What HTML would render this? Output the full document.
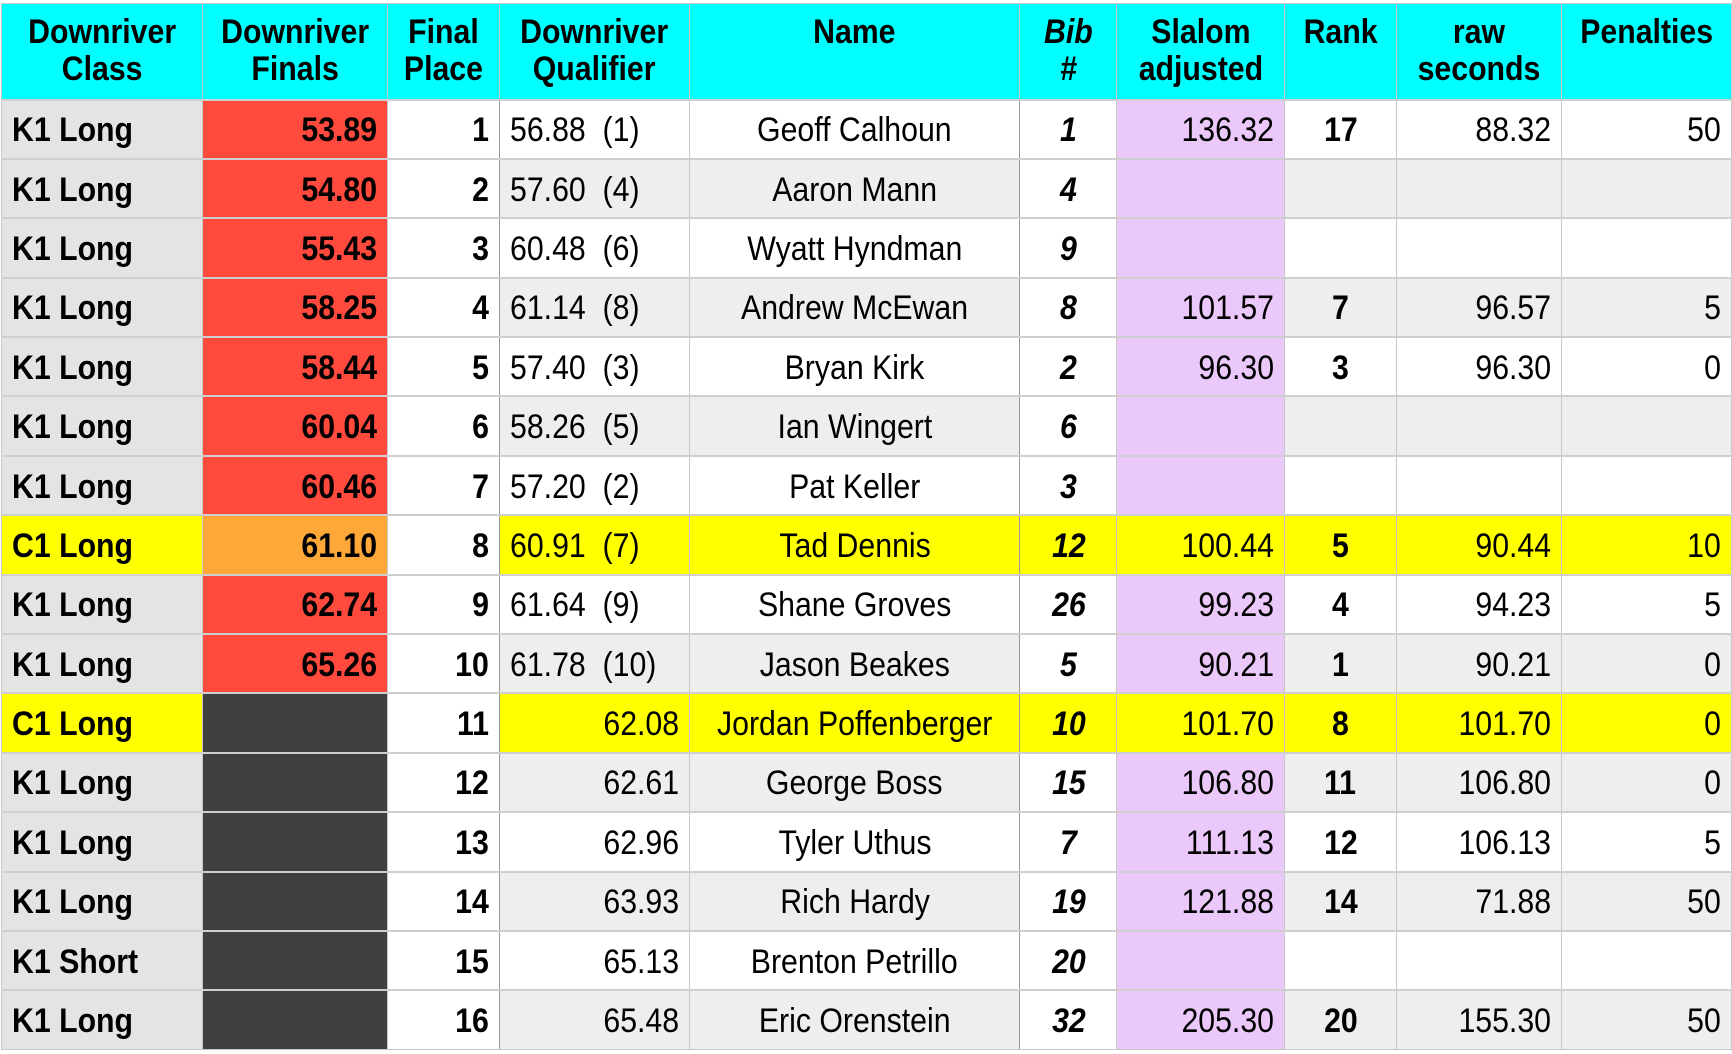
<!DOCTYPE html>
<html><head><meta charset="utf-8"><style>
html,body{margin:0;padding:0;background:#fff;width:1732px;height:1054px;overflow:hidden}
table{position:absolute;left:1px;top:3px;border-collapse:collapse;table-layout:fixed;font-family:"Liberation Sans",Arial,sans-serif;font-size:34px;color:#000}
td,th{border:1px solid #c8c8c8;padding:0 10px;white-space:nowrap;overflow:hidden;background:#fff}
th{background:#00ffff;height:96px;vertical-align:top;font-weight:bold;line-height:37px;padding-top:10px;box-sizing:border-box;text-align:center;padding-left:0;padding-right:0}
span.t{display:inline-block;transform:scaleX(0.89);transform-origin:center}
td[style*="left"] span.t,td.cls span.t,td.q span.t{transform-origin:left}
td.fin span.t,td.pl span.t,td.num span.t,td.sl span.t,td.q.r span.t{transform-origin:right}
tbody tr{height:59.4px}
tbody td{border-top:2px solid #cfcfcf;vertical-align:middle;padding-top:3px}
tr.g td{background:#eeeeee}
td.cls{background:#e4e4e4 !important;font-weight:bold;text-align:left}
td.fin{background:#ff4a3d !important;font-weight:bold;text-align:right}
td.fin.dk{background:#404040 !important}
td.pl{background:#fff !important;font-weight:bold;text-align:right;border-right:1px solid #999}
td.q{text-align:left}
td.q.r{text-align:right}
td.q span.t{transform-origin:left}
td.q.r span.t{transform-origin:right}
td.nm{text-align:center;border-right:1px solid #999}
td.bib{background:#fff !important;font-weight:bold;font-style:italic;text-align:center}
td.sl{background:#eac8fa !important;text-align:right}
td.rk{font-weight:bold;text-align:center}
td.num{text-align:right}
tr.y td{background:#ffff00 !important}
tr.y td.pl{background:#fff !important}
tr.y td.fin{background:#ffa83a !important}
tr.y td.fin.dk{background:#404040 !important}
</style></head><body>
<table>
<colgroup><col style="width:202px"><col style="width:185px"><col style="width:113px"><col style="width:190px"><col style="width:325px"><col style="width:98px"><col style="width:168px"><col style="width:113px"><col style="width:166px"><col style="width:170px"></colgroup>
<thead><tr>
<th><span class="t">Downriver<br>Class</span></th>
<th><span class="t">Downriver<br>Finals</span></th>
<th><span class="t">Final<br>Place</span></th>
<th><span class="t">Downriver<br>Qualifier</span></th>
<th><span class="t">Name</span></th>
<th style="font-style:italic"><span class="t">Bib<br>#</span></th>
<th><span class="t">Slalom<br>adjusted</span></th>
<th><span class="t">Rank</span></th>
<th><span class="t">raw<br>seconds</span></th>
<th><span class="t">Penalties</span></th>
</tr></thead>
<tbody id="tb"></tbody>
</table>
<script>
var classes=["K1 Long","K1 Long","K1 Long","K1 Long","K1 Long","K1 Long","K1 Long","C1 Long","K1 Long","K1 Long","C1 Long","K1 Long","K1 Long","K1 Long","K1 Short","K1 Long"];
var finals=["53.89","54.80","55.43","58.25","58.44","60.04","60.46","61.10","62.74","65.26","","","","","",""];
var quals=["56.88\u00a0\u00a0(1)","57.60\u00a0\u00a0(4)","60.48\u00a0\u00a0(6)","61.14\u00a0\u00a0(8)","57.40\u00a0\u00a0(3)","58.26\u00a0\u00a0(5)","57.20\u00a0\u00a0(2)","60.91\u00a0\u00a0(7)","61.64\u00a0\u00a0(9)","61.78\u00a0\u00a0(10)","62.08","62.61","62.96","63.93","65.13","65.48"];
var names=["Geoff Calhoun","Aaron Mann","Wyatt Hyndman","Andrew McEwan","Bryan Kirk","Ian Wingert","Pat Keller","Tad Dennis","Shane Groves","Jason Beakes","Jordan Poffenberger","George Boss","Tyler Uthus","Rich Hardy","Brenton Petrillo","Eric Orenstein"];
var bibs=["1","4","9","8","2","6","3","12","26","5","10","15","7","19","20","32"];
var slalom=["136.32","","","101.57","96.30","","","100.44","99.23","90.21","101.70","106.80","111.13","121.88","","205.30"];
var ranks=["17","","","7","3","","","5","4","1","8","11","12","14","","20"];
var raws=["88.32","","","96.57","96.30","","","90.44","94.23","90.21","101.70","106.80","106.13","71.88","","155.30"];
var pens=["50","","","5","0","","","10","5","0","0","0","5","50","","50"];
var tb=document.getElementById('tb');
function cell(tr,cls,txt,name){var td=document.createElement('td');td.className=cls;
var s=document.createElement('span');s.className='t';s.textContent=txt;td.appendChild(s);


tr.appendChild(td);}
for(var i=0;i<names.length;i++){
var tr=document.createElement('tr');


if(classes[i].charAt(0)==='C')tr.className='y';else if(i%2===1)tr.className='g';
cell(tr,'cls',classes[i],'class-cell');
cell(tr,'fin'+(finals[i]===''?' dk':''),finals[i],'finals-cell');
cell(tr,'pl',String(i+1),'place-cell');
cell(tr,'q'+(i>=10?' r':''),quals[i],'qualifier-cell');
cell(tr,'nm',names[i],'name-cell');
cell(tr,'bib',bibs[i],'bib-cell');
cell(tr,'sl',slalom[i],'slalom-cell');
cell(tr,'rk',ranks[i],'rank-cell');
cell(tr,'num',raws[i],'raw-cell');
cell(tr,'num',pens[i],'penalties-cell');
tb.appendChild(tr);}
</script>
</body></html>
